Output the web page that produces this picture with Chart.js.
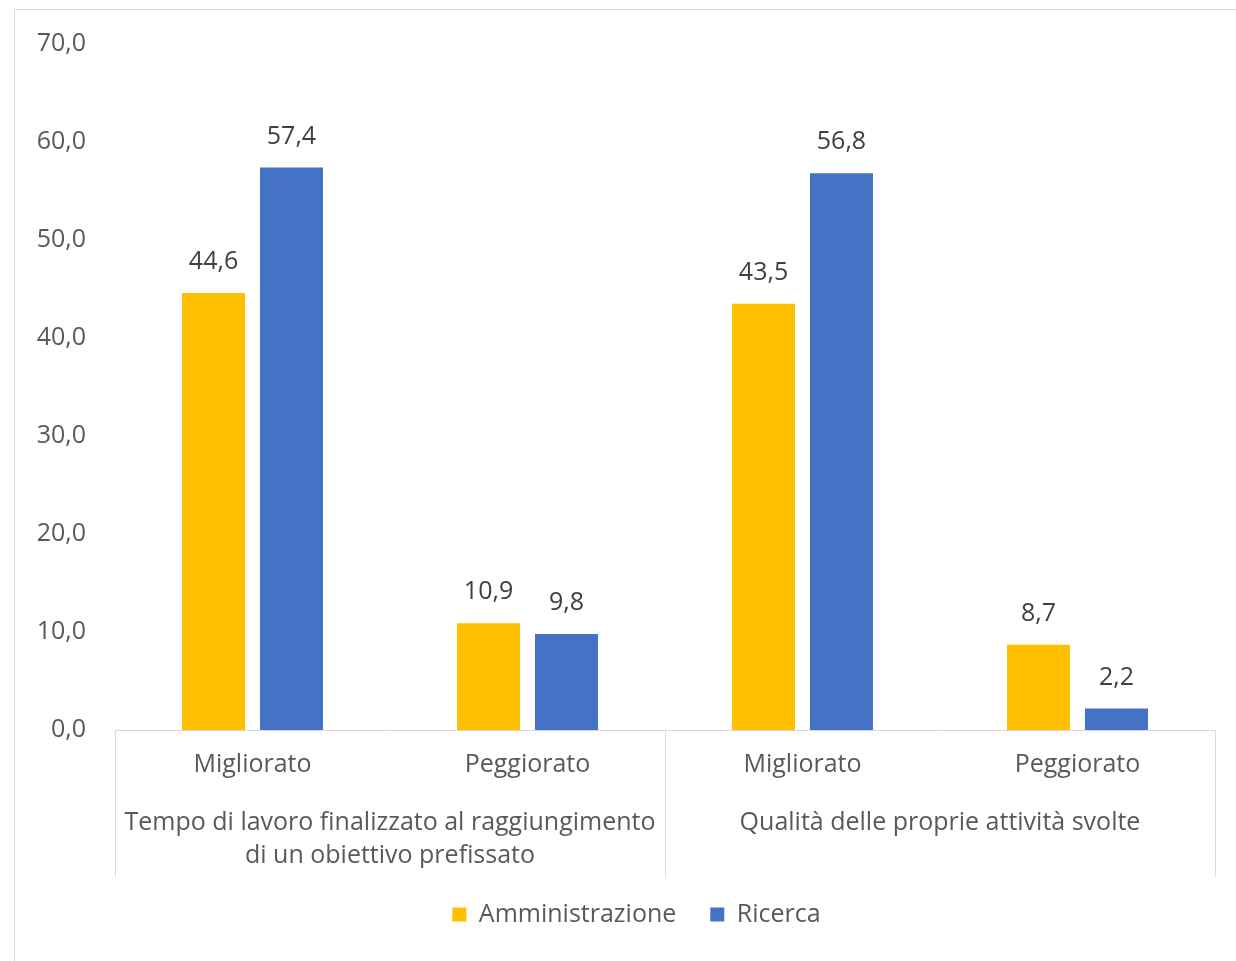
<!DOCTYPE html>
<html>
<head>
<meta charset="utf-8">
<script src="https://cdn.jsdelivr.net/npm/chart.js@4.4.1/dist/chart.umd.min.js"></script>
<style>
  html, body { margin: 0; padding: 0; background: #ffffff; }
  #frame { position: absolute; left: 14px; top: 9px; width: 1300px; height: 1000px;
           border-left: 1px solid #d9d9d9; border-top: 1px solid #d9d9d9; }
  #c { position: absolute; left: 0; top: 0; }
</style>
</head>
<body>
<div id="frame"></div>
<canvas id="c" width="1236" height="961" style="width:1236px;height:961px"></canvas>
<script>
// ---- data ----
const categories = ['Migliorato', 'Peggiorato', 'Migliorato', 'Peggiorato'];
const groups = [['Tempo di lavoro finalizzato al raggiungimento', 'di un obiettivo prefissato'],
                'Qualità delle proprie attività svolte'];
const seriesNames = ['Amministrazione', 'Ricerca'];
const amministrazione = [44.6, 10.9, 43.5, 8.7];
const ricerca = [57.4, 9.8, 56.8, 2.2];
const yMin = 0, yMax = 70, yStep = 10;

const FONT = "'Open Sans', 'Noto Sans', sans-serif";
const FS = 25;
const TEXT = '#595959';
const LINE = '#d9d9d9';
const fmt = v => Number(v).toFixed(1).replace('.', ',');

const valueLabels = {
  id: 'valueLabels',
  afterDatasetsDraw(chart) {
    const ctx = chart.ctx;
    ctx.save();
    ctx.font = FS + 'px ' + FONT;
    ctx.fillStyle = '#404040';
    ctx.textAlign = 'center';
    ctx.textBaseline = 'middle';
    chart.data.datasets.forEach((ds, i) => {
      chart.getDatasetMeta(i).data.forEach((el, j) => {
        ctx.fillText(fmt(ds.data[j]), el.x, el.y - 31);
      });
    });
    ctx.restore();
  }
};

const separators = {
  id: 'separators',
  afterDraw(chart) {
    const x = chart.scales.x;
    const ctx = chart.ctx;
    const top = chart.chartArea.bottom;
    const bottom = 877;
    const mid = (x.getPixelForValue(1) + x.getPixelForValue(2)) / 2;
    ctx.save();
    ctx.strokeStyle = LINE;
    ctx.lineWidth = 1;
    [x.left, mid, x.right].forEach(px => {
      const p = Math.round(px) + 0.5;
      ctx.beginPath();
      ctx.moveTo(p, top);
      ctx.lineTo(p, bottom);
      ctx.stroke();
    });
    ctx.restore();
  }
};

// shift the legend so it is centred like the reference
const legendShift = {
  id: 'legendShift',
  afterLayout(chart) {
    const lg = chart.legend;
    if (lg) { lg.left += 29; lg.right += 29; }
  }
};

new Chart(document.getElementById('c'), {
  type: 'bar',
  data: {
    labels: categories,
    datasets: [
      { label: seriesNames[0], data: amministrazione, backgroundColor: '#FFC000', borderWidth: 0 },
      { label: seriesNames[1], data: ricerca, backgroundColor: '#4472C4', borderWidth: 0 }
    ]
  },
  options: {
    responsive: false,
    animation: false,
    devicePixelRatio: 1,
    layout: { padding: { left: 0, right: 21, top: 43, bottom: 24 } },
    datasets: { bar: { categoryPercentage: 0.567, barPercentage: 0.808 } },
    plugins: {
      legend: {
        position: 'bottom',
        labels: {
          font: { family: FONT, size: FS },
          color: TEXT,
          boxWidth: 14,
          boxHeight: 14,
          padding: 34
        }
      },
      tooltip: { enabled: false },
      title: { display: false }
    },
    scales: {
      y: {
        min: yMin, max: yMax,
        grid: { display: false, drawTicks: false },
        border: { display: false },
        ticks: {
          stepSize: yStep,
          padding: 29,
          color: TEXT,
          font: { family: FONT, size: FS },
          callback: v => fmt(v)
        },
        afterFit(s) { s.width = 115; }
      },
      x: {
        weight: 0,
        grid: { display: false, drawTicks: false },
        border: { display: true, color: LINE, width: 1 },
        ticks: {
          padding: 20,
          color: TEXT,
          font: { family: FONT, size: FS },
          maxRotation: 0, autoSkip: false
        },
        afterFit(s) { s.height = 60; }
      },
      x2: {
        type: 'category',
        position: 'bottom',
        weight: 1,
        labels: groups,
        offset: true,
        grid: { display: false, drawTicks: false },
        border: { display: false },
        ticks: {
          padding: 16,
          color: TEXT,
          font: { family: FONT, size: FS, lineHeight: 1.32 },
          maxRotation: 0, autoSkip: false
        },
        afterFit(s) { s.height = 78; }
      }
    }
  },
  plugins: [valueLabels, separators, legendShift]
});
</script>
</body>
</html>
